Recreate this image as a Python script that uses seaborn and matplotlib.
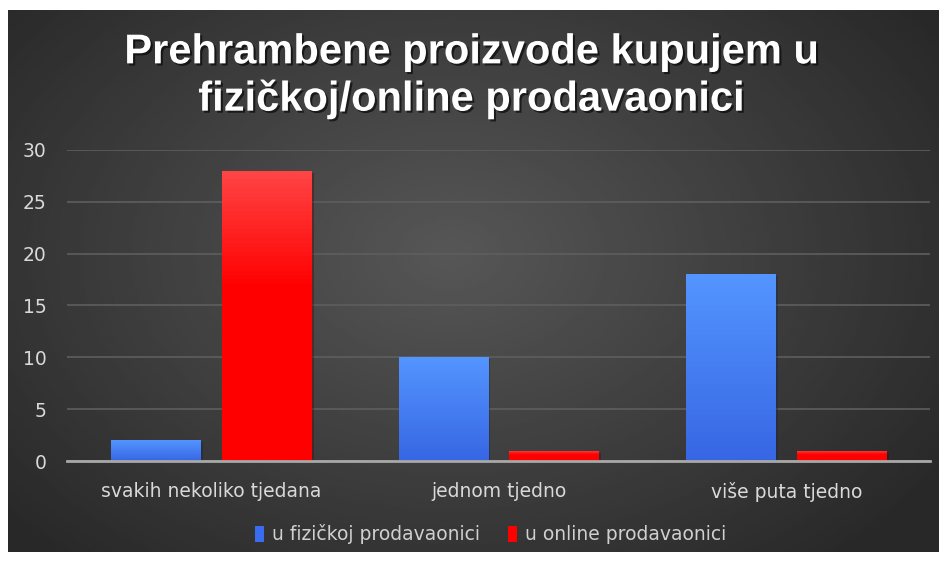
import numpy as np
import pandas as pd
import matplotlib
matplotlib.use("Agg")
import matplotlib.pyplot as plt
import matplotlib.patheffects as pe
import seaborn as sns

categories = ["svakih nekoliko tjedana", "jednom tjedno", "više puta tjedno"]
series_names = ["u fizičkoj prodavaonici", "u online prodavaonici"]
fizicka = [2, 10, 18]
online = [28, 1, 1]
yticks = [0, 5, 10, 15, 20, 25, 30]

df = pd.DataFrame({
    "kategorija": categories * 2,
    "vrijednost": fizicka + online,
    "serija": [series_names[0]] * 3 + [series_names[1]] * 3,
})

sns.set_theme(style="dark")
plt.rcParams["font.family"] = ["DejaVu Sans"]

fig = plt.figure(figsize=(9.43, 5.63), dpi=100, facecolor="white")

# dark radial background panel
bg = fig.add_axes([0.008, 0.02, 0.987, 0.962])
yy, xx = np.mgrid[-1:1:200j, -1:1:300j]
r = np.sqrt(((xx + 0.05) * 0.95) ** 2 + ((yy + 0.1) * 0.8) ** 2)
bg.imshow(0.34 - 0.15 * np.clip(r, 0, 1.2), cmap="gray", vmin=0, vmax=1,
          aspect="auto", extent=[0, 1, 0, 1])
bg.set_axis_off()

ax = fig.add_axes([0.0715, 0.181, 0.915, 0.553])
ax.set_facecolor("none")
palette = {series_names[0]: "#3a6cf0", series_names[1]: "#ff0000"}
sns.barplot(data=df, x="kategorija", y="vrijednost", hue="serija",
            palette=palette, width=0.77, gap=0.19, ax=ax, saturation=1,
            linewidth=0, legend=True)

# gradient shading on bars (lighter at the top)
for patch in ax.patches:
    if patch.get_height() <= 0:
        continue
    patch.set_path_effects([pe.SimplePatchShadow(offset=(1.5, -1.5), alpha=0.35), pe.Normal()])
    fc = np.array(matplotlib.colors.to_rgb(patch.get_facecolor()))
    top = np.clip(fc + np.array([0.1, 0.16, 0.06]), 0, 1)
    bot = fc * 0.95
    grad = np.linspace(0, 1, 64)[:, None]
    if fc[0] > 0.9:
        grad = np.clip(grad / 0.4, 0, 1)
        top = np.array([1.0, 0.27, 0.27])
        bot = fc
    img = top[None, None, :] * (1 - grad[..., None]) + bot[None, None, :] * grad[..., None]
    x0, y0 = patch.get_x(), patch.get_y()
    w, h = patch.get_width(), patch.get_height()
    im = ax.imshow(img, extent=[x0, x0 + w, y0, y0 + h], aspect="auto", zorder=patch.get_zorder() + 0.1)
    im.set_clip_path(patch)

ax.set_xlim(-0.5, 2.5)
ax.set_ylim(0, 30)
ax.set_yticks(yticks)
ax.set_xlabel("")
ax.set_ylabel("")
ax.grid(axis="y", color="#5e5e5e", linewidth=1.2)
ax.set_axisbelow(True)
for s in ["top", "right", "left"]:
    ax.spines[s].set_visible(False)
ax.spines["bottom"].set_color("#a8a8a8")
ax.spines["bottom"].set_linewidth(2)
ax.tick_params(axis="y", colors="#d9d9d9", labelsize=13.5, length=0, pad=15)
ax.tick_params(axis="x", colors="#d9d9d9", labelsize=13.5, length=0, pad=15)

leg = ax.legend(loc="center", bbox_to_anchor=(0.49, -0.235), ncol=2,
                frameon=False, fontsize=13.5, handlelength=0.5, handleheight=0.9,
                handletextpad=0.4, columnspacing=1.5)
for t in leg.get_texts():
    t.set_color("#d0d0d0")

fig.text(0.5, 0.865, "Prehrambene proizvode kupujem u\nfizičkoj/online prodavaonici",
         ha="center", va="center", color="white", fontsize=30,
         fontfamily="Liberation Sans", fontweight="bold", linespacing=1.16,
         path_effects=[pe.withSimplePatchShadow(offset=(1.5, -1.5), shadow_rgbFace="black", alpha=0.6)])

fig.savefig("out.png", dpi=100, facecolor="white")
